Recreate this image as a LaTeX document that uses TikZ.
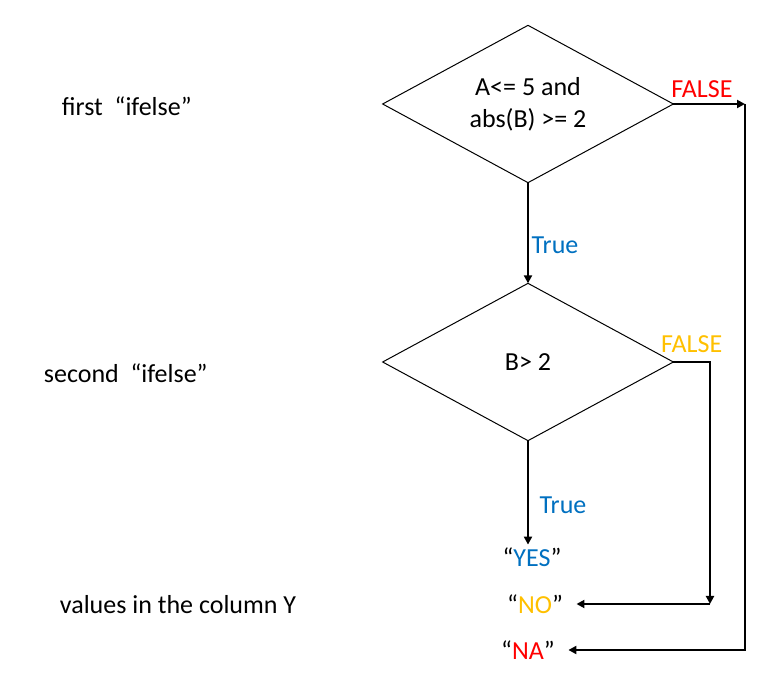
\documentclass[tikz,border=0pt]{standalone}
\usepackage{fontspec}
\setmainfont{Carlito}
\usetikzlibrary{shapes.geometric,arrows.meta,calc}
\definecolor{trueblue}{RGB}{0,112,192}
\definecolor{noyellow}{RGB}{255,192,0}
\definecolor{nared}{RGB}{255,0,0}
\tikzset{
  decision/.style = {draw, diamond, aspect=1.84, line width=0.75pt, inner sep=0pt, outer sep=0pt,
    minimum width=218pt, minimum height=118pt, align=center,
    font=\fontsize{19.5}{24}\selectfont},
  flow/.style = {line width=1.5pt, -{Triangle[length=6pt,width=6pt]}},
  txt/.style = {inner sep=2pt, font=\fontsize{19.5}{22}\selectfont}
}

\begin{document}
\begin{tikzpicture}[x=0.75pt,y=-0.75pt]
  \useasboundingbox (0,0) rectangle (783,695);

  % the two tests
  \node[decision] (first) at (528,104) {A<= 5 and\\abs(B) >= 2};
  \node[decision] (second) at (528,362) {B> 2};

  % left hand side
  \node[txt, anchor=west] (lfirst) at (59,106) {first\ \ “ifelse”};
  \node[txt, anchor=west] (lsecond) at (41,373) {second\ \ “ifelse”};
  \node[txt, anchor=west] (lvalues) at (57,605) {values in the column Y};

  % results
  \node[txt] (yes) at (532,557) {“\textcolor{trueblue}{YES}”};
  \node[txt] (no) at (535,604) {“\textcolor{noyellow}{NO}”};
  \node[txt] (na) at (528,650) {“\textcolor{nared}{NA}”};

  \coordinate (redcorner) at (745,104);
  \coordinate (yellowcorner) at (710,604);

  \draw[flow] (first.south) -- node[txt, pos=0.62, right, text=trueblue] {True} (second.north);
  \draw[flow] (second.south) -- node[txt, pos=0.62, right, xshift=6pt, text=trueblue] {True} (second.south |- yes.north);

  \draw[flow] (first.east) -- node[txt, pos=0.4, above, yshift=2pt, text=nared] {FALSE} (redcorner);
  \draw[flow] (redcorner) |- ([xshift=8pt]na.east);

  \draw[flow] (second.east) -| node[txt, pos=0.25, above, yshift=4pt, text=noyellow] {FALSE} (yellowcorner);
  \draw[flow] (yellowcorner) -- ([xshift=8pt]no.east);

\end{tikzpicture}
\end{document}
